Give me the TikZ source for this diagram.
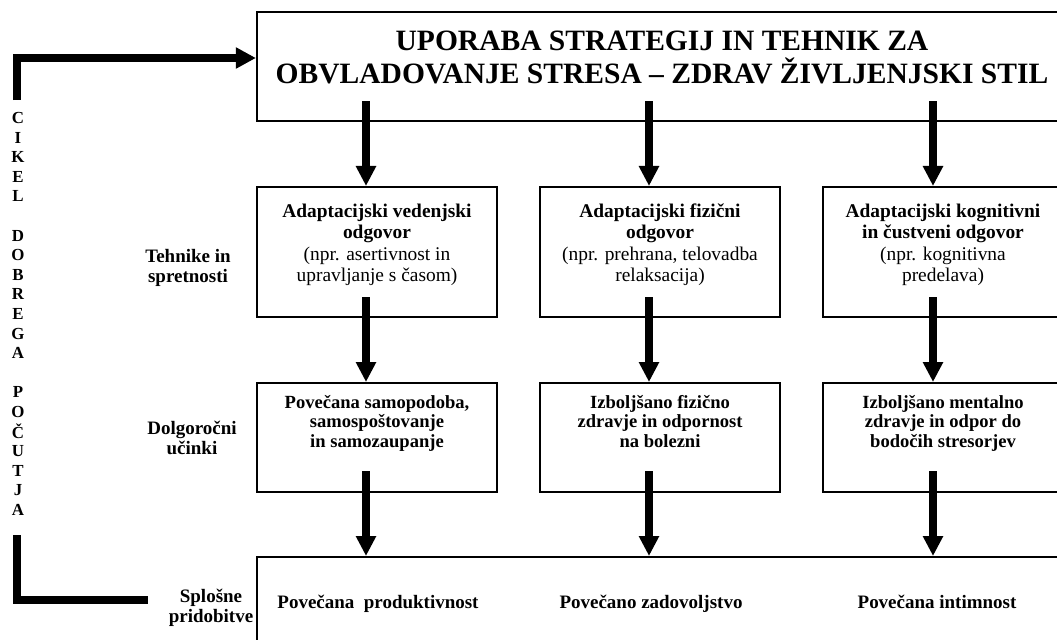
\documentclass[tikz,border=0pt]{standalone}
\usepackage{fontspec}
\setmainfont{Liberation Serif}
\usetikzlibrary{arrows.meta, positioning, calc}
\newcommand{\tightlines}{\lineskiplimit=-5pt\relax}

\begin{document}
\begin{tikzpicture}[x=0.025cm, y=-0.025cm,
    box/.style={draw, line width=1.4pt, rectangle, minimum width=6cm},
    wide/.style={draw, line width=1.4pt, rectangle, minimum width=20.075cm},
    flow/.style={line width=5pt, -{Triangle[length=0.5cm, width=0.48cm]}},
    bar/.style={line width=5.5pt},
    title/.style={align=center, font={\bfseries\fontsize{21}{23.5}\selectfont\tightlines}},
    upper/.style={align=center, font={\bfseries\fontsize{13.8}{15.3}\selectfont\tightlines}},
    lower/.style={align=center, font={\bfseries\fontsize{13.2}{14}\selectfont\tightlines}},
    side/.style={align=center, font={\bfseries\fontsize{13.5}{14.5}\selectfont\tightlines}},
    gaintext/.style={anchor=base, font=\bfseries\fontsize{13.5}{15}\selectfont},
    cyc/.style={font=\bfseries\fontsize{12}{12}\selectfont, inner sep=0pt}]
    \useasboundingbox (0,0) rectangle (1057,639);

    % main box on top
    \node[wide, minimum height=2.725cm] (top) at (658.5,66.5) {};
    \node[title] (toptxt) at (662,57) {UPORABA STRATEGIJ IN TEHNIK ZA\\OBVLADOVANJE STRESA -- ZDRAV ŽIVLJENJSKI STIL};

    % techniques and skills
    \node[box, minimum height=3.25cm] (vedenje) at (377,252) {};
    \node[box, minimum height=3.25cm] (fizicno) at (660,252) {};
    \node[box, minimum height=3.25cm] (kognicija) at (943,252) {};
    \node[upper] (vedenjetxt) at (377,245) {\strut Adaptacijski vedenjski\\odgovor\\{\mdseries (npr. asertivnost in}\\{\mdseries upravljanje s časom)\strut}};
    \node[upper] (fizicnotxt) at (660,245) {\strut Adaptacijski fizični\\odgovor\\{\mdseries (npr. prehrana, telovadba}\\{\mdseries relaksacija)\strut}};
    \node[upper] (kognicijatxt) at (943,245) {\strut Adaptacijski kognitivni\\in čustveni odgovor\\{\mdseries (npr. kognitivna}\\{\mdseries predelava)\strut}};

    % long-term effects
    \node[box, minimum height=2.725cm] (samopodoba) at (377,437.5) {};
    \node[box, minimum height=2.725cm] (zdravje) at (660,437.5) {};
    \node[box, minimum height=2.725cm] (mentalno) at (943,437.5) {};
    \node[lower] (samopodobatxt) at (377,424) {\strut Povečana samopodoba,\\samospoštovanje\\in samozaupanje\strut};
    \node[lower] (zdravjetxt) at (660,424) {\strut Izboljšano fizično\\zdravje in odpornost\\na bolezni\strut};
    \node[lower] (mentalnotxt) at (943,424) {\strut Izboljšano mentalno\\zdravje in odpor do\\bodočih stresorjev\strut};

    % general gains
    \node[wide, minimum height=3.65cm] (gain) at (658.5,630) {};
    \node[gaintext] (produkt) at (378,608) {Povečana~ produktivnost};
    \node[gaintext] (zadovolj) at (651,608) {Povečano zadovoljstvo};
    \node[gaintext] (intim) at (937,608) {Povečana intimnost};

    % row labels
    \node[side] (tehnike) at (188,268) {Tehnike in\\spretnosti};
    \node[side] (ucinki) at (192,438) {Dolgoročni\\učinki};
    \node[side] (splosne) at (211,608) {Splošne\\pridobitve};

    % arrows
    \coordinate (col1) at (366,0);
    \coordinate (col2) at (649,0);
    \coordinate (col3) at (933,0);
    \draw[flow] ($(top.south -| col1)+(0,-21)$) -- (vedenje.north -| col1);
    \draw[flow] ($(top.south -| col2)+(0,-21)$) -- (fizicno.north -| col2);
    \draw[flow] ($(top.south -| col3)+(0,-21)$) -- (kognicija.north -| col3);
    \draw[flow] ($(vedenje.south -| col1)+(0,-21)$) -- (samopodoba.north -| col1);
    \draw[flow] ($(fizicno.south -| col2)+(0,-21)$) -- (zdravje.north -| col2);
    \draw[flow] ($(kognicija.south -| col3)+(0,-21)$) -- (mentalno.north -| col3);
    \draw[flow] ($(samopodoba.south -| col1)+(0,-22)$) -- (gain.north -| col1);
    \draw[flow] ($(zdravje.south -| col2)+(0,-22)$) -- (gain.north -| col2);
    \draw[flow] ($(mentalno.south -| col3)+(0,-22)$) -- (gain.north -| col3);

    % cycle of well-being
    \foreach \ch [count=\i from 0] in {C,I,K,E,L,,D,O,B,R,E,G,A,,P,O,Č,U,T,J,A}
        \node[cyc] (lt\i) at (18,{118+19.6*\i}) {\ch};
    \coordinate (cycA) at (17,100);
    \coordinate (cycB) at (17,58);
    \coordinate (cycC) at (17,535);
    \coordinate (cycD) at (148,600);
    \draw[bar, -{Triangle[length=0.5cm, width=0.5cm]}] (cycA) -- (cycB) -- (cycB -| top.west);
    \draw[bar] (cycC) |- (cycD);
\end{tikzpicture}
\end{document}
